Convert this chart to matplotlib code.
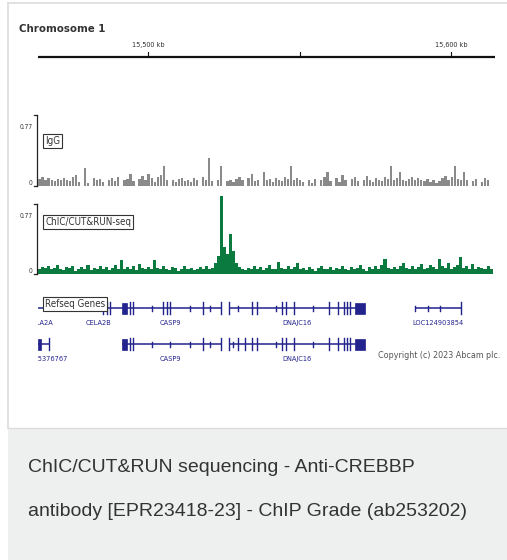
import matplotlib
matplotlib.use("Agg")
import matplotlib.pyplot as plt
from matplotlib.patches import Rectangle
from matplotlib import font_manager
from matplotlib.font_manager import FontProperties

W, H = 507, 560

# ---------------- data ----------------
chrom_name = "Chromosome 1"
view_start_kb = 15463.7
view_end_kb = 15614.5
chrom_ticks_kb = [15500, 15550, 15600]
chrom_tick_labels = ["15,500 kb", "", "15,600 kb"]

track_names = ["IgG", "ChIC/CUT&RUN-seq"]
track_max = 0.77
bin_start_kb = 15463.7
bin_size_kb = 1.0

igg_values = [
    0.08, 0.10, 0.06, 0.09, 0.07, 0.05, 0.08, 0.06, 0.09, 0.07,
    0.05, 0.10, 0.12, 0.04, 0.00, 0.20, 0.03, 0.00, 0.09, 0.06,
    0.08, 0.04, 0.00, 0.07, 0.09, 0.05, 0.10, 0.00, 0.06, 0.08,
    0.13, 0.05, 0.00, 0.08, 0.11, 0.06, 0.13, 0.09, 0.04, 0.10,
    0.12, 0.22, 0.07, 0.00, 0.06, 0.04, 0.08, 0.09, 0.05, 0.07,
    0.04, 0.09, 0.06, 0.00, 0.10, 0.07, 0.30, 0.05, 0.00, 0.06,
    0.22, 0.00, 0.05, 0.07, 0.04, 0.08, 0.10, 0.06, 0.00, 0.09,
    0.13, 0.05, 0.07, 0.00, 0.15, 0.06, 0.08, 0.04, 0.09, 0.07,
    0.05, 0.10, 0.08, 0.22, 0.06, 0.09, 0.07, 0.04, 0.00, 0.06,
    0.03, 0.08, 0.00, 0.07, 0.10, 0.15, 0.05, 0.00, 0.09, 0.04,
    0.12, 0.06, 0.00, 0.08, 0.10, 0.05, 0.00, 0.07, 0.11, 0.06,
    0.04, 0.09, 0.07, 0.05, 0.10, 0.08, 0.22, 0.06, 0.09, 0.15,
    0.07, 0.05, 0.08, 0.10, 0.06, 0.09, 0.07, 0.05, 0.08, 0.04,
    0.06, 0.03, 0.05, 0.09, 0.11, 0.07, 0.10, 0.22, 0.08, 0.06,
    0.15, 0.07, 0.00, 0.05, 0.08, 0.00, 0.04, 0.09, 0.06, 0.00,
]

chic_values = [
    0.06, 0.08, 0.07, 0.09, 0.05, 0.07, 0.10, 0.06, 0.04, 0.08,
    0.07, 0.09, 0.03, 0.06, 0.08, 0.05, 0.10, 0.04, 0.07, 0.06,
    0.09, 0.05, 0.08, 0.04, 0.07, 0.10, 0.06, 0.15, 0.05, 0.08,
    0.06, 0.09, 0.04, 0.11, 0.07, 0.05, 0.08, 0.06, 0.15, 0.07,
    0.05, 0.09, 0.06, 0.04, 0.08, 0.07, 0.03, 0.06, 0.09, 0.05,
    0.07, 0.04, 0.06, 0.08, 0.05, 0.09, 0.06, 0.07, 0.12, 0.20,
    0.86, 0.30, 0.22, 0.44, 0.25, 0.12, 0.08, 0.06, 0.04, 0.07,
    0.05, 0.09, 0.06, 0.08, 0.04, 0.07, 0.10, 0.06, 0.05, 0.13,
    0.07, 0.05, 0.09, 0.06, 0.08, 0.12, 0.05, 0.07, 0.04, 0.08,
    0.06, 0.03, 0.07, 0.09, 0.05, 0.06, 0.08, 0.04, 0.07, 0.05,
    0.09, 0.06, 0.04, 0.08, 0.05, 0.07, 0.10, 0.06, 0.03, 0.08,
    0.06, 0.09, 0.05, 0.10, 0.16, 0.07, 0.05, 0.08, 0.06, 0.09,
    0.12, 0.07, 0.05, 0.09, 0.06, 0.08, 0.11, 0.05, 0.07, 0.10,
    0.08, 0.06, 0.17, 0.09, 0.07, 0.12, 0.06, 0.08, 0.10, 0.19,
    0.07, 0.09, 0.06, 0.11, 0.05, 0.08, 0.07, 0.06, 0.09, 0.05,
]

# genes: name, row, start, end, exons, strand marks, thick block, label position
gene_names  = ["CELA2A", "CELA2B", "CASP9", "DNAJC16", "LOC124903854",
               "LOC105376767", "CASP9", "DNAJC16"]
gene_rows   = [0, 0, 0, 0, 0, 1, 1, 1]
gene_starts = [15463.7, 15480.0, 15490.8, 15526.7, 15588.1,
               15463.7, 15491.4, 15526.7]
gene_ends   = [15480.0, 15490.8, 15524.1, 15571.6, 15603.3,
               15467.7, 15524.1, 15571.6]
gene_exons = [
    [],
    [15485.2, 15486.5, 15487.5],
    [15494.1, 15495.1, 15505.0, 15506.3, 15507.3, 15518.2, 15524.1],
    [15526.7, 15534.3, 15536.0, 15544.2, 15545.5, 15548.2, 15559.7,
     15562.7, 15564.7, 15565.7, 15566.7],
    [15603.3],
    [15467.3],
    [15494.1, 15495.1, 15518.2, 15524.1],
    [15526.7, 15529.7, 15532.0, 15534.3, 15536.0, 15544.2, 15545.5,
     15548.2, 15559.7, 15562.7, 15564.7, 15565.7, 15566.7],
]
gene_marks = [
    [],
    [],
    [15501.3, 15513.9, 15520.5],
    [15529.7, 15542.2, 15554.5],
    [15588.1, 15592.4, 15596.4],
    [],
    [15501.3, 15507.3, 15513.9, 15520.5],
    [15528.1, 15542.2, 15554.5],
]
gene_blocks = [None, None, (15491.4, 15493.1), (15568.3, 15571.6), None,
               (15463.7, 15464.7), (15491.4, 15493.1), (15568.3, 15571.6)]
gene_label_kb = [15464.5, 15483.5, 15507.3, 15549.2, 15595.7,
                 15465.2, 15507.3, 15549.2]

caption_lines = ["ChIC/CUT&RUN sequencing - Anti-CREBBP",
                 "antibody [EPR23418-23] - ChIP Grade (ab253202)"]
copyright_text = "Copyright (c) 2023 Abcam plc."

# ---------------- fonts ----------------
def _w(f):
    w = f.weight
    if isinstance(w, str):
        w = {"normal": 400, "regular": 400, "book": 400, "light": 300,
             "medium": 500, "semibold": 600, "bold": 700}.get(w, 400)
    return w


def pick_font(target_weight):
    best = None
    for f in font_manager.fontManager.ttflist:
        is_cond = ("Narrow" in f.name or "Condensed" in f.name
                   or f.stretch in ("condensed", "semi-condensed", "extra-condensed"))
        if not is_cond or f.style != "normal":
            continue
        score = abs(_w(f) - target_weight)
        if best is None or score < best[0]:
            best = (score, f.fname)
    return best[1] if best else None


reg_path = pick_font(400)
bold_path = pick_font(650)
SANS = "Liberation Sans"


def fp_reg(size):
    if reg_path:
        return FontProperties(fname=reg_path, size=size)
    return FontProperties(family="DejaVu Sans", size=size * 0.85)


def fp_bold(size):
    if bold_path:
        return FontProperties(fname=bold_path, size=size)
    return FontProperties(family="DejaVu Sans", weight="bold", size=size * 0.85)


GREY_BAR = "#8a8a8a"
GREEN = "#0b7a3e"
NAVY = "#23238e"
TXT = "#333333"

fig = plt.figure(figsize=(W / 100, H / 100), dpi=100)
fig.patch.set_facecolor("white")


def px_axes(l, t, r, b, z=1):
    ax = fig.add_axes([l / W, 1 - b / H, (r - l) / W, (b - t) / H])
    ax.set_zorder(z)
    ax.patch.set_alpha(0)
    return ax


# overlay axes in pixel coordinates
ov = px_axes(0, 0, W, H, z=0)
ov.set_xlim(0, W)
ov.set_ylim(H, 0)
ov.axis("off")
ov.add_patch(Rectangle((8, 428), W - 8, H - 428, facecolor="#eeefef", edgecolor="none"))
ov.plot([8, 8], [3, 428], color="#dcdcdc", lw=1.2)
ov.plot([8, W], [3, 3], color="#dcdcdc", lw=1.2)
ov.plot([8, W], [428, 428], color="#dcdcdc", lw=1.0)
for k, line in enumerate(caption_lines):
    ov.text(28, 468 + k * 44, line, fontsize=14, family=SANS, color="#333333",
            ha="left", va="center")

ov.text(19, 29, chrom_name, fontproperties=fp_bold(8.2), color=TXT,
        ha="left", va="center")
ov.text(378, 355, copyright_text, fontproperties=fp_reg(6.4), color="#555555",
        ha="left", va="center")

X0, X1 = 38, 495

# chromosome ruler
cax = px_axes(X0, 20, X1, 65)
cax.set_xlim(view_start_kb, view_end_kb)
cax.set_ylim(65, 20)
cax.axis("off")
cax.plot([view_start_kb, view_end_kb], [57, 57], color="#111111", lw=1.6, solid_capstyle="butt")
for kb, lab in zip(chrom_ticks_kb, chrom_tick_labels):
    cax.plot([kb, kb], [52, 57], color="#111111", lw=0.8)
    if lab:
        cax.text(kb, 45, lab, fontproperties=fp_reg(5.2), color=TXT,
                 ha="center", va="center")

# signal tracks
track_specs = [(115, 186, igg_values, GREY_BAR, 0.75, (43, 63, 141)),
               (204, 274, chic_values, GREEN, 1.0, (43, 130, 222))]
for name, (top, bot, vals, col, wfrac, box) in zip(track_names, track_specs):
    ax = px_axes(X0, top, X1, bot, z=2)
    ax.set_xlim(view_start_kb, view_end_kb)
    ax.set_ylim(0, track_max)
    ax.axis("off")
    xs = [bin_start_kb + (i + 0.5) * bin_size_kb for i in range(len(vals))]
    ax.bar(xs, vals, width=bin_size_kb * wfrac, color=col, linewidth=0, clip_on=False)
    # scale bracket
    ov.plot([37, 37], [top, bot], color="#222222", lw=0.9)
    ov.plot([33.5, 37], [top, top], color="#222222", lw=0.9)
    ov.plot([33.5, 37], [bot, bot], color="#222222", lw=0.9)
    ov.text(32.5, top + 12, "0.77", fontproperties=fp_reg(4.8), color=TXT,
            ha="right", va="center")
    ov.text(32.5, bot - 3, "0", fontproperties=fp_reg(4.8), color=TXT,
            ha="right", va="center")
    bl, br, bc = box
    ov.text(bl + 2, bc, name, fontproperties=fp_reg(7.0), color=TXT,
            ha="left", va="center", zorder=5,
            bbox=dict(boxstyle="square,pad=0.22", facecolor="white",
                      edgecolor="#333333", linewidth=0.8))

# gene track
gax = px_axes(X0, 288, X1, 385, z=2)
gax.set_xlim(view_start_kb, view_end_kb)
gax.set_ylim(385, 288)
gax.axis("off")
row_y = [308, 344]
for name, r, s, e, ex, mk, blk, lx in zip(gene_names, gene_rows, gene_starts, gene_ends,
                                           gene_exons, gene_marks, gene_blocks, gene_label_kb):
    y = row_y[r]
    gax.plot([s, e], [y, y], color=NAVY, lw=1.1, solid_capstyle="butt")
    for x in ex:
        gax.plot([x, x], [y - 6, y + 6], color=NAVY, lw=1.0)
    for x in mk:
        gax.plot([x, x], [y - 2.5, y + 2.5], color=NAVY, lw=1.0)
    if blk is not None:
        gax.add_patch(Rectangle((blk[0], y - 5.5), blk[1] - blk[0], 11,
                                facecolor=NAVY, edgecolor=NAVY, lw=0.5))
    gax.text(lx, y + 15, name, fontproperties=fp_reg(5.3), color=NAVY,
             ha="center", va="center", clip_on=True)

ov2 = px_axes(0, 0, W, H, z=3)
ov2.set_xlim(0, W)
ov2.set_ylim(H, 0)
ov2.axis("off")
ov2.text(45, 304, "Refseq Genes", fontproperties=fp_reg(7.0), color=TXT,
         ha="left", va="center",
         bbox=dict(boxstyle="square,pad=0.22", facecolor="white",
                   edgecolor="#333333", linewidth=0.8))

fig.savefig("out.png", dpi=100)
